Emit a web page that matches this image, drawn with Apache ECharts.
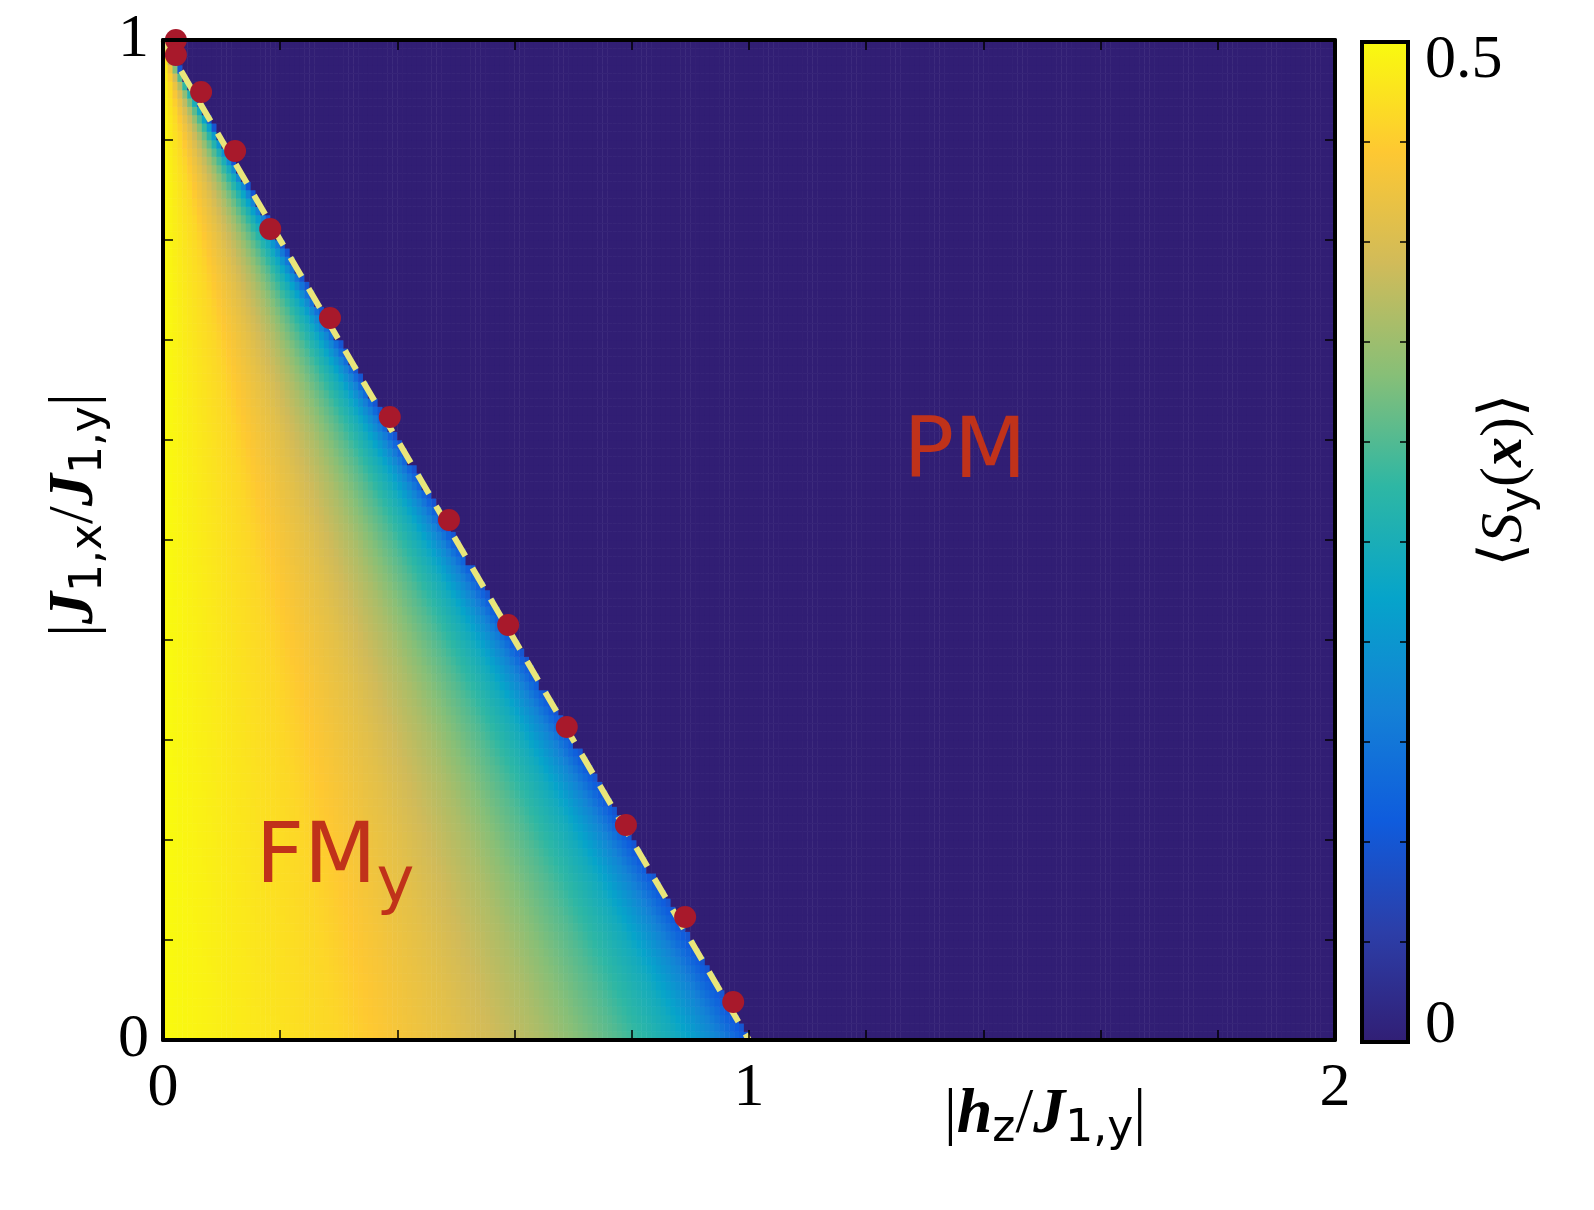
<!DOCTYPE html>
<html><head><meta charset="utf-8">
<script src="https://cdn.jsdelivr.net/npm/echarts@6/dist/echarts.min.js"></script>
<style>html,body{margin:0;padding:0;overflow:hidden;background:#fff}#c{width:1594px;height:1210px}</style>
</head><body><div id="c"></div>
<script>
// Boundary line endpoints (|h_z|, |J1x|)
const boundaryLine = [[0, 1], [1.0, 0]];
// Red marker points
const markerX = [0.022,0.022,0.065,0.123,0.183,0.285,0.387,0.488,0.589,0.689,0.79,0.891,0.973];
const markerY = [1.0,0.985,0.948,0.889,0.811,0.722,0.623,0.52,0.415,0.313,0.215,0.123,0.038];
const profileT = [0, 0.3, 0.5, 0.65, 0.78, 0.88, 0.95, 1.0];
const profileV = [0.5, 0.46, 0.41, 0.36, 0.30, 0.24, 0.17, 0.10];
const xTickLabels = ['0','1','2'];
const yTickLabels = ['0','1'];

const NX = 240, NY = 120;
function prof(t){
  for (let i=1;i<profileT.length;i++){
    if (t<=profileT[i]){const f=(t-profileT[i-1])/(profileT[i]-profileT[i-1]);return profileV[i-1]+f*(profileV[i]-profileV[i-1]);}
  }
  return profileV[profileV.length-1];
}
const xc=[],yc=[],heat=[];
for(let i=0;i<NX;i++) xc.push(i);
for(let j=0;j<NY;j++) yc.push(j);
for(let i=0;i<NX;i++){const xv=(i+0.5)/NX*2;
  for(let j=0;j<NY;j++){const yv=(j+0.5)/NY;const hc=1-yv;
    heat.push([i,j, xv<=hc ? prof(xv/hc) : 0]);}}

const parula=['#311e74','#2c3ea8','#0f5cdd','#1481d6','#06a4ca','#2eb7a4','#87bf77','#d1bb59','#fec832','#f9fb0e'];
const G={left:163,top:40,width:1172,height:1000,outerBoundsMode:'none',containLabel:false};
const serif='Liberation Serif, DejaVu Serif, serif';
const red='#c0321a';
const axLine={onZero:false,lineStyle:{color:'#000',width:4}};
const tick={inside:true,length:10,lineStyle:{color:'#000',width:1.5}};
const chart=echarts.init(document.getElementById('c'));
chart.setOption({
  animation:false,
  grid:[Object.assign({},G),Object.assign({},G)],
  xAxis:[
    {type:'category',data:xc,gridIndex:0,show:false},
    {type:'value',gridIndex:1,min:0,max:2,interval:0.2,position:'bottom',z:10,
     axisLine:axLine,axisTick:tick,splitLine:{show:false},
     axisLabel:{fontFamily:serif,fontSize:62,color:'#000',margin:18,formatter:v=>{const k=Math.round(v);return Math.abs(v-k)<1e-6?xTickLabels[k]:'';}}},
    {type:'value',gridIndex:1,min:0,max:2,interval:0.2,position:'top',z:10,
     axisLine:axLine,axisTick:tick,axisLabel:{show:false},splitLine:{show:false}}
  ],
  yAxis:[
    {type:'category',data:yc,gridIndex:0,show:false},
    {type:'value',gridIndex:1,min:0,max:1,interval:0.1,position:'left',z:10,
     axisLine:axLine,axisTick:tick,splitLine:{show:false},
     axisLabel:{fontFamily:serif,fontSize:62,color:'#000',margin:14,formatter:v=>{const k=Math.round(v);return Math.abs(v-k)<1e-6?yTickLabels[k]:'';}}},
    {type:'value',gridIndex:1,min:0,max:1,interval:0.1,position:'right',z:10,
     axisLine:axLine,axisTick:tick,axisLabel:{show:false},splitLine:{show:false}}
  ],
  visualMap:{type:'continuous',show:false,min:0,max:0.5,seriesIndex:0,inRange:{color:parula}},
  series:[
    {type:'heatmap',xAxisIndex:0,yAxisIndex:0,data:heat,progressive:0,z:0,itemStyle:{borderWidth:0}},
    {type:'line',xAxisIndex:1,yAxisIndex:1,data:boundaryLine,symbol:'none',
     lineStyle:{color:'#e9e67a',width:6,type:[22,14]},z:5},
    {type:'scatter',xAxisIndex:1,yAxisIndex:1,data:markerX.map((x,i)=>[x,markerY[i]]),
     symbolSize:22,itemStyle:{color:'#a8192b',opacity:1},z:6}
  ],
  graphic:[
    {type:'rect',shape:{x:1362,y:42,width:46,height:1000},style:{
      fill:new echarts.graphic.LinearGradient(0,1,0,0,parula.map((c,i)=>({offset:i/(parula.length-1),color:c}))),
      stroke:'#000',lineWidth:4},z:100},
    ...[0.1,0.2,0.3,0.4,0.5,0.6,0.7,0.8,0.9].flatMap(f=>[
      {type:'line',shape:{x1:1362,y1:42+1000*f,x2:1370,y2:42+1000*f},style:{stroke:'#000',lineWidth:1.5},z:101},
      {type:'line',shape:{x1:1400,y1:42+1000*f,x2:1408,y2:42+1000*f},style:{stroke:'#000',lineWidth:1.5},z:101}]),
    {type:'text',left:1425,top:30,style:{text:'0.5',font:'62px '+serif,fill:'#000'}},
    {type:'text',left:1425,top:995,style:{text:'0',font:'62px '+serif,fill:'#000'}},
    {type:'text',x:1505,y:480,rotation:Math.PI/2,style:{
      text:'⟨{i|S}{s|y}({b|x})⟩',font:'60px '+serif,fill:'#000',align:'center',verticalAlign:'middle',
      rich:{i:{font:'italic 60px '+serif},s:{font:'44px DejaVu Sans, sans-serif',padding:[30,0,0,0]},b:{font:'italic bold 60px '+serif}}}},
    {type:'text',x:75,y:515,rotation:Math.PI/2,style:{
      text:'|{i|J}{s|1,x}/{i|J}{s|1,y}|',font:'64px '+serif,fill:'#000',align:'center',verticalAlign:'middle',
      rich:{i:{font:'italic bold 64px '+serif},s:{font:'44px DejaVu Sans, sans-serif',padding:[30,0,0,0]}}}},
    {type:'text',x:1045,y:1115,style:{
      text:'|{i|h}{s|z}/{i|J}{s|1,y}|',font:'64px '+serif,fill:'#000',align:'center',verticalAlign:'middle',
      rich:{i:{font:'italic bold 64px '+serif},s:{font:'44px DejaVu Sans, sans-serif',padding:[30,0,0,0]}}}},
    {type:'text',x:965,y:455,style:{text:'PM',font:'84px DejaVu Sans, sans-serif',fill:red,align:'center',verticalAlign:'middle'},z:50},
    {type:'text',x:335,y:860,style:{text:'FM{s|y}',font:'84px DejaVu Sans, sans-serif',fill:red,align:'center',verticalAlign:'middle',
      rich:{s:{font:'64px DejaVu Sans, sans-serif',fill:red,padding:[50,0,0,0]}}},z:50}
  ]
});
</script></body></html>
